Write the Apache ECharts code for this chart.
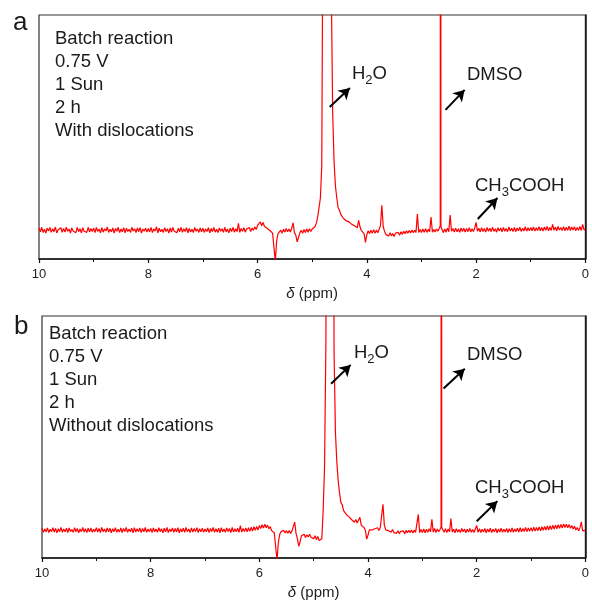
<!DOCTYPE html>
<html>
<head>
<meta charset="utf-8">
<script src="https://cdn.jsdelivr.net/npm/echarts@6/dist/echarts.min.js"></script>
<style>
  html, body { margin: 0; padding: 0; background: #fff; }
  #chart { width: 592px; height: 601px; }
</style>
</head>
<body>
<div id="chart"></div>
<script>
// 1H NMR spectra, chemical shift sampled from 10 ppm down to 0 ppm
const ppmStart = 10;
const ppmStep = 0.025;

// (a) batch reaction, with dislocations — one row per ppm
const intensityA = [
  12.7,11.1,13.0,10.8,12.2,10.6,12.6,11.5,12.9,10.9, 12.4,11.2,13.1,10.7,12.0,11.4,12.8,10.9,12.5,11.0, 13.0,11.3,12.3,10.6,12.7,11.5,12.1,10.8,12.9,11.2, 12.4,10.7,12.8,11.4,12.2,10.9,13.0,11.1,12.5,11.3,
  12.6,10.8,12.9,11.3,12.3,10.7,12.8,11.0,12.4,11.5, 13.1,10.9,12.2,11.2,12.7,10.6,12.5,11.4,13.0,10.8, 12.3,11.1,12.8,10.7,12.6,11.3,12.2,10.9,13.0,11.5, 12.4,10.8,12.7,11.2,12.9,10.6,12.3,11.4,12.6,11.0,
  12.5,11.1,12.9,10.8,12.3,11.4,13.2,10.7,12.6,11.2, 12.2,10.9,12.8,11.3,12.4,10.6,12.7,11.0,12.9,11.4, 12.1,10.8,12.6,11.2,13.0,10.9,12.4,11.3,12.8,10.7, 12.5,11.1,12.2,10.8,12.9,11.4,12.3,10.9,12.7,11.2,
  12.6,10.9,12.3,11.3,12.8,10.7,12.5,11.2,12.9,11.0, 12.2,10.8,12.7,11.4,12.4,10.9,13.0,11.1,12.3,10.7, 12.6,11.3,12.9,11.0,12.4,11.2,14.6,10.9,12.5,11.4, 12.8,11.0,12.3,11.5,12.9,11.3,12.7,11.8,13.2,12.1,
  13.8,13.0,15.2,13.6,15.0,13.4,14.2,12.6,13.2,11.7, 12.0,10.6,10.2,-1.0,7.5,10.4,10.0,11.8,10.6,12.2, 11.0,12.5,11.2,12.3,11.1,12.6,14.8,10.8,9.8,7.0, 8.9,10.8,11.8,10.5,12.1,10.9,12.3,11.0,12.4,11.3,
  12.3,11.6,13.2,14.6,17.2,21.0,25.0,38.0,160,400, 600,600,500,300,110,60,40,30,25,21.0, 20.0,18.2,18.0,16.6,16.9,15.6,15.9,15.2,15.6,14.2, 14.5,13.6,14.3,12.8,15.8,13.2,11.6,12.3,10.4,6.8,
  10.0,11.6,10.4,11.8,10.6,12.0,10.5,11.9,10.8,12.1, 13.8,22.0,13.2,11.3,10.0,10.6,9.4,10.8,9.5,10.4, 9.2,10.6,9.8,10.9,9.7,11.2,10.1,11.4,10.4,11.6, 10.6,11.7,10.7,11.9,10.8,11.8,10.9,18.4,10.9,12.1,
  10.9,12.3,11.0,12.4,10.9,12.2,11.2,17.2,11.0,12.1, 11.1,12.3,11.4,12.6,600,12.4,10.8,12.3,11.0,12.6, 11.2,18.0,11.4,12.5,11.0,12.6,11.2,12.4,10.9,12.7, 11.3,12.6,11.0,12.5,11.2,12.8,11.1,12.4,11.3,12.7,
  15.0,11.4,12.6,11.1,12.8,11.3,12.5,11.0,12.9,11.4, 12.6,11.2,13.0,11.3,12.4,11.0,12.8,11.5,12.7,11.1, 12.9,11.4,12.5,11.2,13.1,11.5,12.6,11.3,12.9,11.2, 12.7,11.6,13.0,11.3,12.6,11.5,13.2,11.4,12.8,11.6,
  12.9,11.6,13.1,11.5,12.8,11.7,13.2,11.6,12.9,11.5, 13.1,11.8,13.3,11.6,12.9,11.7,14.2,11.8,13.0,11.6, 13.3,11.9,12.9,11.7,13.2,11.6,13.0,11.8,13.4,11.7, 13.1,11.9,13.2,11.6,12.9,11.8,13.3,11.7,14.2,11.9,
  12.4
];
// feet of the sharp DMSO singlet, between grid samples
const singletFeetA = [[2.656, 13.6], [2.644, 13.2]];

// (b) batch reaction, without dislocations
const intensityB = [
  12.3,10.6,12.0,10.8,12.4,10.5,11.9,10.9,12.5,10.7, 12.2,10.4,12.1,10.9,12.6,10.6,12.0,10.8,12.3,10.5, 12.4,10.9,11.8,10.6,12.5,10.8,12.2,10.4,12.0,10.9, 12.6,10.7,12.1,10.5,12.3,10.8,12.4,10.6,11.9,10.9,
  12.5,10.7,12.2,10.5,12.6,10.9,12.0,10.6,12.4,10.8, 12.3,10.4,12.1,10.9,12.5,10.6,11.9,10.7,12.4,10.5, 12.2,10.9,12.6,10.6,12.0,10.8,12.3,10.4,12.5,10.7, 12.1,10.9,12.4,10.5,12.2,10.8,12.6,10.6,12.0,10.9,
  12.2,10.5,12.4,10.8,12.0,10.6,12.5,10.9,12.1,10.4, 12.3,10.8,12.6,10.5,12.0,10.9,12.4,10.6,12.2,10.7, 12.5,10.4,12.1,10.8,12.3,10.6,12.6,10.9,12.0,10.5, 12.4,10.7,12.2,10.9,12.5,10.5,12.1,10.8,12.3,10.6,
  12.0,10.8,12.4,10.5,12.2,10.9,12.6,10.6,12.1,10.7, 12.3,10.4,12.5,10.8,12.0,10.6,12.4,10.9,12.2,10.5, 12.6,10.7,12.1,10.8,12.3,10.6,13.4,10.7,12.2,10.9, 12.4,10.8,12.5,11.0,12.7,11.1,12.9,11.4,13.0,11.6,
  13.4,12.2,13.8,12.4,14.0,12.5,13.6,12.1,13.0,11.3, 11.9,10.4,10.3,-1.0,6.5,9.8,10.9,10.2,11.4,10.3, 11.3,10.2,11.4,10.1,11.2,10.6,14.8,10.2,8.0,4.8, 6.8,9.2,8.8,9.8,8.5,9.6,8.7,9.8,8.6,9.4,
  8.0,9.2,7.6,8.9,7.2,7.6,8.0,20.0,38.0,90.0, 400,600,600,500,300,85,52,40,32,27, 23.0,22.0,19.6,19.4,18.0,18.2,17.0,17.2,15.8,16.2, 14.8,15.9,14.5,14.8,16.8,13.6,14.0,12.6,11.6,7.8,
  9.5,11.6,10.8,11.6,11.2,12.1,11.5,12.5,11.4,12.6, 12.9,22.2,13.6,11.6,12.0,11.3,11.6,10.6,11.8,10.5, 11.2,10.2,11.3,10.1,11.0,10.3,11.2,10.0,11.4,10.4, 11.5,10.5,11.6,10.3,11.5,10.6,11.4,18.0,10.5,11.8,
  10.5,12.0,10.4,11.9,10.6,12.1,10.8,16.0,10.7,12.2, 10.5,12.0,10.9,11.8,600,11.9,10.6,12.1,10.5,12.0, 10.8,16.3,10.7,11.9,10.4,12.1,10.7,11.8,10.5,12.2, 10.8,12.0,10.4,11.9,10.7,12.2,10.6,11.8,10.5,12.0,
  13.4,10.6,12.1,10.5,11.9,10.8,12.2,10.4,12.0,10.7, 12.3,10.5,11.9,10.8,12.2,10.4,12.0,10.7,12.3,10.6, 11.9,10.8,12.2,10.5,12.1,10.7,12.4,10.6,12.0,10.9, 12.3,10.7,12.5,10.8,12.2,11.0,12.6,10.9,12.4,11.1,
  12.5,11.0,12.7,11.1,12.6,11.3,12.8,11.2,12.9,11.5, 13.0,11.6,13.2,11.5,13.4,11.7,13.5,12.0,13.6,12.1, 13.8,12.3,13.9,12.4,14.1,12.6,14.0,12.5,13.8,12.3, 13.4,12.0,13.1,11.6,12.6,11.3,12.4,14.9,11.2,11.9,
  11.4
];
const singletFeetB = [[2.656, 12.8], [2.644, 12.6]];

const panelLetters = ['a', 'b'];
const conditionsA = ['Batch reaction', '0.75 V', '1 Sun', '2 h', 'With dislocations'];
const conditionsB = ['Batch reaction', '0.75 V', '1 Sun', '2 h', 'Without dislocations'];

const FONT = "'Liberation Sans', Arial, Helvetica, sans-serif";
const INK = '#1a1a1a';

// grid samples plus the extra singlet feet, ordered from high to low ppm
function pairs(vals, extra) {
  const pts = vals.map((v, i) => [+(ppmStart - i * ppmStep).toFixed(3), v]).concat(extra);
  return pts.sort((p, q) => q[0] - p[0]);
}

function shiftAxis(gridIndex) {
  return {
    gridIndex, type: 'value', min: 0, max: 10, interval: 2, inverse: true,
    axisLine: { show: true, onZero: false, lineStyle: { color: '#111', width: 1.5 } },
    axisTick: { show: true, inside: false, length: 4, lineStyle: { color: '#111', width: 1.2 } },
    minorTick: { show: true, splitNumber: 2, length: 3, lineStyle: { color: '#111', width: 1 } },
    splitLine: { show: false }, minorSplitLine: { show: false },
    axisLabel: { fontSize: 13, color: '#222', margin: 9, fontFamily: FONT },
    name: '{i|δ} (ppm)', nameLocation: 'middle', nameGap: 27,
    nameTextStyle: {
      fontSize: 15, color: '#222', fontFamily: FONT,
      rich: { i: { fontStyle: 'italic', fontSize: 15, color: '#222', fontFamily: FONT } }
    }
  };
}

function intensityAxis(gridIndex) {
  return {
    gridIndex, type: 'value', min: 0, max: 100,
    axisLine: { show: true, lineStyle: { color: '#111', width: 1.5 } },
    axisTick: { show: false }, axisLabel: { show: false }, splitLine: { show: false }
  };
}

function arrows(list) {
  return {
    silent: true, animation: false,
    symbol: ['none', 'arrow'], symbolSize: [10, 11],
    lineStyle: { color: '#000', width: 2, type: 'solid' },
    label: { show: false }, emphasis: { disabled: true },
    data: list.map(([from, to]) => [{ coord: from }, { coord: to }])
  };
}

function spectrum(idx, vals, extra, arrowList) {
  return {
    type: 'line', xAxisIndex: idx, yAxisIndex: idx,
    data: pairs(vals, extra), showSymbol: false, clip: true, animation: false,
    lineStyle: { color: '#ff0000', width: 1.2 }, silent: true,
    markLine: arrows(arrowList)
  };
}

const labelRich = {
  n: { fontSize: 18.5, fontFamily: FONT, color: INK },
  s: { fontSize: 13, fontFamily: FONT, color: INK, padding: [12, 0, 0, 0] }
};

function label(x, y, text) {
  return { type: 'text', x, y, style: { text, rich: labelRich, verticalAlign: 'middle', fill: INK } };
}

function block(x, y, lines) {
  return {
    type: 'text', x, y,
    style: { text: lines.join('\n'), fontSize: 18.5, lineHeight: 23, fontFamily: FONT, fill: INK, verticalAlign: 'top' }
  };
}

const chart = echarts.init(document.getElementById('chart'), null, { renderer: 'canvas' });
chart.setOption({
  animation: false,
  backgroundColor: '#fff',
  grid: [
    { left: 39, top: 15, width: 548, height: 244, show: true, borderColor: '#333', borderWidth: 1.2 },
    { left: 42, top: 316, width: 545, height: 243, show: true, borderColor: '#333', borderWidth: 1.2 }
  ],
  xAxis: [shiftAxis(0), shiftAxis(1)],
  yAxis: [intensityAxis(0), intensityAxis(1)],
  series: [
    spectrum(0, intensityA, singletFeetA, [
      [[4.68, 62.3], [4.31, 70.1]],
      [[2.56, 61.1], [2.21, 69.3]],
      [[1.97, 16.4], [1.61, 25.0]]
    ]),
    spectrum(1, intensityB, singletFeetB, [
      [[4.68, 72.0], [4.32, 79.8]],
      [[2.61, 70.0], [2.22, 78.2]],
      [[2.00, 15.2], [1.62, 23.5]]
    ])
  ],
  graphic: [
    { type: 'text', x: 13, y: 23, style: { text: panelLetters[0], fontSize: 26, fontFamily: FONT, fill: INK, verticalAlign: 'middle' } },
    { type: 'text', x: 14, y: 327, style: { text: panelLetters[1], fontSize: 26, fontFamily: FONT, fill: INK, verticalAlign: 'middle' } },
    block(55, 27.5, conditionsA),
    block(49, 322.5, conditionsB),
    label(352, 74, '{n|H}{s|2}{n|O}'),
    label(467, 75, '{n|DMSO}'),
    label(475, 186, '{n|CH}{s|3}{n|COOH}'),
    label(354, 353, '{n|H}{s|2}{n|O}'),
    label(467, 355, '{n|DMSO}'),
    label(475, 488, '{n|CH}{s|3}{n|COOH}')
  ]
});
</script>
</body>
</html>
